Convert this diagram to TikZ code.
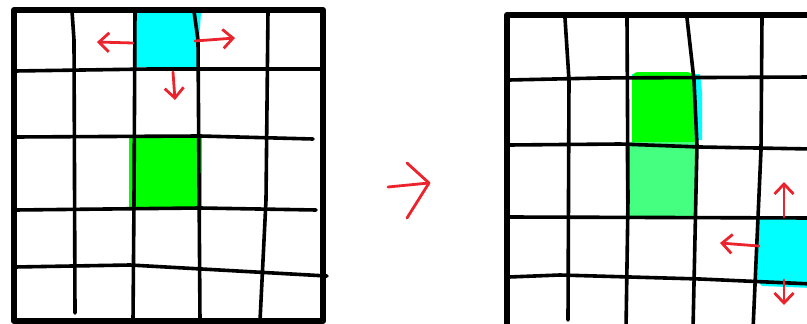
\documentclass[tikz,border=0pt]{standalone}
\usepackage{xcolor}
\usepackage{tikz}
\usetikzlibrary{arrows.meta}

\definecolor{cyanfill}{RGB}{0,255,255}
\definecolor{greenfill}{RGB}{0,255,0}
\definecolor{lightgreen}{RGB}{68,255,128}
\definecolor{penred}{RGB}{235,35,45}

\begin{document}
\begin{tikzpicture}[x=1pt,y=-1pt,line cap=round,line join=round,
  gline/.style={line width=3.6pt},
  frame/.style={line width=6pt},
  pen/.style={penred,line width=2.8pt,-{Straight Barb[length=10pt,width=19pt]}}]
  \useasboundingbox (0,0) rectangle (807,324);
  % first grid
  \fill[cyanfill] (135,13)--(201,13)--(199,40)--(198,67)--(135,67)--cycle;
  \fill[greenfill] (129,137)--(202,137)--(202,207)--(129,207)--cycle;
  \draw[gline] (72,11)--(74,40)--(75,313);
  \draw[gline] (135,11)--(134,200)--(133,321);
  \draw[gline] (194,11)--(198,40)--(200,321);
  \draw[gline] (268,11)--(266,200)--(260,321);
  \draw[gline] (15,71)--(150,69)--(323,69);
  \draw[gline] (15,137)--(200,136)--(313,139);
  \draw[gline] (15,210)--(200,208)--(316,210);
  \draw[gline] (15,267)--(130,265)--(327,276);
  \draw[frame] (14,10) rectangle (323,321);
  \draw[pen] (133,43)--(97,42);
  \draw[pen] (195,41)--(235,38);
  \draw[pen] (173,72)--(175,100);
  % step arrow
  \draw[penred,line width=2.8pt] (388,187)--(429,183);
  \draw[penred,line width=2.8pt] (407,163)--(429,183)--(407,218);
  % second grid
  \fill[cyanfill] (632,74)--(700,74)--(702,91)--(702,140)--(632,145)--cycle;
  \fill[greenfill,rounded corners=6pt] (632,72)--(693,72)--(695,148)--(632,148)--cycle;
  \fill[greenfill] (675,145) rectangle (693,163);
  \fill[lightgreen,rounded corners=4pt] (625,142)--(698,142)--(697,218)--(626,218)--cycle;
  \fill[cyanfill] (759,219)--(812,219)--(812,288)--(762,286)--(757,281)--cycle;
  \draw[gline] (565,18)--(569,80)--(568,320);
  \draw[gline] (627,18)--(628,200)--(626,330);
  \draw[gline] (687,18)--(694,80)--(697,145)--(693,330);
  \draw[gline] (762,18)--(761,150)--(753,330);
  \draw[gline] (509,80)--(600,78)--(812,77);
  \draw[gline] (509,145)--(620,144)--(700,147)--(812,149);
  \draw[gline] (509,217)--(812,218);
  \draw[gline] (509,277)--(560,275)--(700,279)--(812,284);
  \draw[frame] (812,15)--(507,15)--(507,330);
  \draw[pen] (784,217)--(784,182);
  \draw[pen] (759,246)--(720,243);
  \draw[pen] (784,280)--(784,305);
\end{tikzpicture}
\end{document}
